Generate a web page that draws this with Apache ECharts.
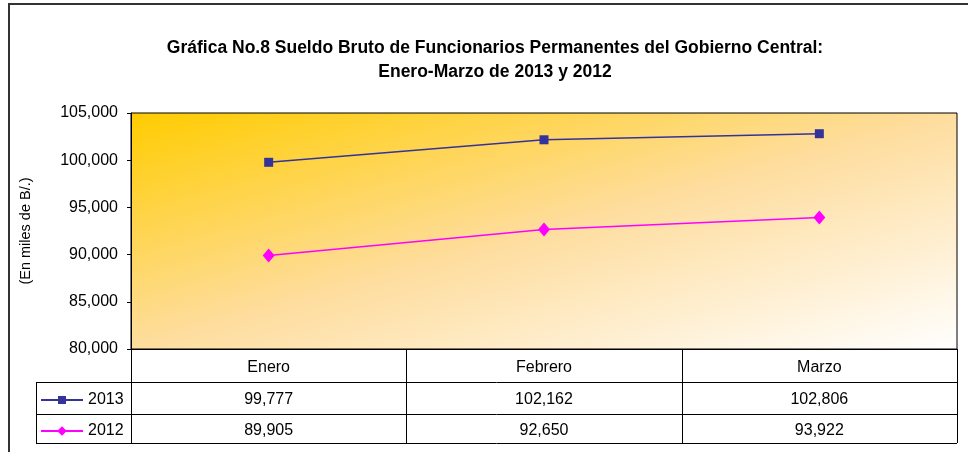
<!DOCTYPE html>
<html>
<head>
<meta charset="utf-8">
<script src="https://cdn.jsdelivr.net/npm/echarts@6/dist/echarts.min.js"></script>
<style>
    html, body { margin: 0; padding: 0; background: #fff; }
    #chart { width: 968px; height: 452px; }
</style>
</head>
<body>
<div id="chart"></div>
<script>
const MONTHS = ["Enero", "Febrero", "Marzo"];
const SERIES_NAMES = ["2013", "2012"];
const VALUES_2013 = [99777, 102162, 102806];
const VALUES_2012 = [89905, 92650, 93922];

const FONT = "Liberation Sans, Arial, sans-serif";
const GRID = { left: 131, top: 113, width: 826, height: 236 };

const fmt = v => v.toLocaleString("en-US");

// filas de la tabla de datos debajo del eje
const valueAxis = (values, offset) => ({
    type: "category",
    data: MONTHS,
    position: "bottom",
    offset,
    axisLine: { show: false },
    axisTick: { show: false },
    axisLabel: {
        margin: 11,
        fontFamily: FONT,
        fontSize: 16,
        color: "#000",
        formatter: (v, i) => fmt(values[i])
    }
});

// lineas de la tabla
const tableLines = () => {
    const x0 = GRID.left, x1 = GRID.left + GRID.width;
    const yAxisBottom = GRID.top + GRID.height;
    const rows = [382, 414, 443];
    const lines = [];
    const seg = (a, b, c, d) =>
        lines.push({
            type: "line",
            z: 100,
            shape: { x1: a, y1: b, x2: c, y2: d },
            style: { stroke: "#000", lineWidth: 1 }
        });
    rows.forEach(y => seg(36, y + 0.5, x1, y + 0.5));
    seg(36.5, rows[0], 36.5, rows[2]);
    for (let i = 0; i <= MONTHS.length; i++) {
        const x = Math.round(x0 + (GRID.width * i) / MONTHS.length) + 0.5;
        seg(x, yAxisBottom, x, rows[2]);
    }
    return lines;
};

const chart = echarts.init(document.getElementById("chart"));

chart.setOption({
    animation: false,
    title: {
        text: "Gráfica No.8 Sueldo Bruto de Funcionarios Permanentes del Gobierno Central:\nEnero-Marzo de 2013 y 2012",
        left: 490,
        textAlign: "center",
        top: 31,
        textStyle: { fontFamily: FONT, fontSize: 17.5, fontWeight: "bold", color: "#000", lineHeight: 24 }
    },
    legend: [
        {
            data: [SERIES_NAMES[0]],
            left: 35,
            top: 387,
            itemWidth: 42,
            itemHeight: 10,
            textStyle: { fontFamily: FONT, fontSize: 16, color: "#000" }
        },
        {
            data: [SERIES_NAMES[1]],
            left: 35,
            top: 418,
            itemWidth: 42,
            itemHeight: 12,
            textStyle: { fontFamily: FONT, fontSize: 16, color: "#000" }
        }
    ],
    grid: {
        ...GRID,
        show: true,
        borderColor: "#000",
        borderWidth: 1,
        backgroundColor: {
            type: "linear",
            x: 0, y: 0, x2: 0.151, y2: 1.849,
            colorStops: [
                { offset: 0, color: "#FFCC00" },
                { offset: 0.5, color: "#FEDD9E" },
                { offset: 1, color: "#FFFFFF" }
            ]
        }
    },
    xAxis: [
        {
            type: "category",
            data: MONTHS,
            axisLine: { lineStyle: { color: "#000" } },
            axisTick: { show: false },
            axisLabel: { margin: 11, fontFamily: FONT, fontSize: 16, color: "#000" }
        },
        valueAxis(VALUES_2013, 32),
        valueAxis(VALUES_2012, 63)
    ],
    yAxis: {
        type: "value",
        min: 80000,
        max: 105000,
        interval: 5000,
        name: "(En miles de B/.)",
        nameLocation: "middle",
        nameRotate: 90,
        nameGap: 98,
        nameTextStyle: { fontFamily: FONT, fontSize: 14.5, color: "#000" },
        axisLine: { show: true, lineStyle: { color: "#000" } },
        axisTick: { show: true, length: 4, lineStyle: { color: "#000" } },
        splitLine: { show: false },
        axisLabel: { margin: 13, fontFamily: FONT, fontSize: 16, color: "#000", formatter: fmt }
    },
    series: [
        {
            name: SERIES_NAMES[0],
            type: "line",
            data: VALUES_2013,
            symbol: "rect",
            symbolSize: 9,
            color: "#333399",
            lineStyle: { width: 1.5 },
            itemStyle: { color: "#333399" }
        },
        {
            name: SERIES_NAMES[1],
            type: "line",
            data: VALUES_2012,
            symbol: "diamond",
            symbolSize: [12, 14],
            color: "#FF00FF",
            lineStyle: { width: 1.5 },
            itemStyle: { color: "#FF00FF" }
        }
    ],
    graphic: [
        {
            type: "rect",
            shape: { x: 9, y: 4, width: 1000, height: 500 },
            style: { fill: "none", stroke: "#333", lineWidth: 2 }
        },
        ...tableLines()
    ]
});
</script>
</body>
</html>
